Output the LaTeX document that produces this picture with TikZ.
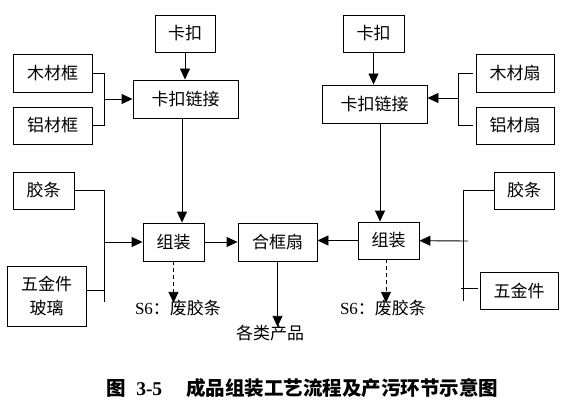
\documentclass[tikz,border=0pt]{standalone}
\usepackage{fontspec}
\setmainfont{Liberation Serif}
\newfontfamily\cjk{Noto Sans CJK SC}
\newfontfamily\latin{Liberation Serif}
\usetikzlibrary{arrows.meta}
\tikzstyle{block} = [rectangle, minimum height=38pt, inner sep=0pt, text centered, draw=black, line width=0.9pt, fill=white, font=\cjk\fontsize{17}{24}\selectfont]
\tikzstyle{txt} = [inner sep=0pt, text height=12pt, text depth=2pt, font=\cjk\fontsize{17}{24}\selectfont]
\tikzstyle{line} = [line width=0.9pt]
\tikzstyle{arrow} = [line width=0.9pt,-{Triangle[length=11pt,width=10pt]}]
\tikzstyle{dasharrow} = [arrow, dash pattern=on 4pt off 3pt]

\begin{document}
\begin{tikzpicture}[x=1pt, y=-1pt]
	\useasboundingbox (0,0) rectangle (577,401);
	% left half
	\node (kakou1) [block, minimum width=60pt, minimum height=37pt] at (185,33.5) {卡扣};
	\node (lianjie1) [block, minimum width=105pt] at (185.5,99) {卡扣链接};
	\node (mukuang) [block, minimum width=79pt] at (52.5,73) {木材框};
	\node (lvkuang) [block, minimum width=79pt, minimum height=37pt] at (52.5,125.5) {铝材框};
	\node (jiaotiao1) [block, minimum width=61pt, minimum height=37pt] at (43.5,190.5) {胶条};
	\node (wujin1) [block, minimum width=79pt, minimum height=60pt, align=center] at (46.5,296) {五金件\\玻璃};
	\node (zuzhuang1) [block, minimum width=61pt] at (173.5,242) {组装};
	\node (hekuang) [block, minimum width=79pt] at (277.5,242) {合框扇};
	\node (feijiao1) [txt] at (178,309) {{\latin S6}：废胶条};
	\node (chanpin) [txt] at (270,334) {各类产品};
	% right half
	\node (kakou2) [block, minimum width=61pt, minimum height=37pt] at (373.5,33.5) {卡扣};
	\node (lianjie2) [block, minimum width=105pt] at (374.5,104) {卡扣链接};
	\node (mushan) [block, minimum width=78pt] at (515,73) {木材扇};
	\node (lvshan) [block, minimum width=78pt, minimum height=37pt] at (515,125.5) {铝材扇};
	\node (jiaotiao2) [block, minimum width=60pt, minimum height=37pt] at (524,190.5) {胶条};
	\node (zuzhuang2) [block, minimum width=61pt, minimum height=37pt] at (388.5,240.5) {组装};
	\node (wujin2) [block, minimum width=78pt, minimum height=37pt] at (519,290.5) {五金件};
	\node (feijiao2) [txt] at (383,309) {{\latin S6}：废胶条};
	% caption
	\node (title) [inner sep=0pt, font=\fontsize{19.5}{22}\selectfont\bfseries] at (302.5,388) {{\cjk\bfseries 图}\hspace{10pt}3-5\hspace{24pt}{\cjk\bfseries 成品组装工艺流程及产污环节示意图}};

	\coordinate (b1) at (104,99);
	\coordinate (b2) at (458,98);
	\coordinate (b3) at (104,242);
	\coordinate (b3end) at (104,302);
	\coordinate (b4) at (463,241);
	\coordinate (b4end) at (463,301);

	\draw [arrow] (kakou1.south) -- (kakou1.south |- lianjie1.north);
	\draw [line] (mukuang.east) -| (b1);
	\draw [line] (lvkuang.east) -| (b1);
	\draw [arrow] (b1) -- (lianjie1);
	\draw [arrow] ([xshift=-3.5pt]lianjie1.south) -- ([xshift=-3.5pt]lianjie1.south |- zuzhuang1.north);
	\draw [line] (jiaotiao1.east) -| (b3end);
	\draw [line] ([yshift=6pt]wujin1.east) -- ([yshift=6pt]wujin1.east -| b3);
	\draw [arrow] (b3) -- (zuzhuang1);
	\draw [arrow] (zuzhuang1) -- (hekuang);
	\draw [dasharrow] (zuzhuang1.south) -- ([yshift=-1pt]zuzhuang1.south |- feijiao1.north);
	\draw [arrow] (hekuang.south) -- (hekuang.south |- chanpin.north);

	\draw [arrow] (kakou2.south) -- (kakou2.south |- lianjie2.north);
	\draw [line] ([xshift=-3pt]mushan.west) -| (b2);
	\draw [line] ([xshift=-3pt]lvshan.west) -| (b2);
	\draw [arrow] (b2) -- (b2 -| lianjie2.east);
	\draw [arrow] ([xshift=5.5pt]lianjie2.south) -- ([xshift=5.5pt]lianjie2.south |- zuzhuang2.north);
	\draw [line] (jiaotiao2.west) -| (b4end);
	\draw [line] ([xshift=-2pt,yshift=2.5pt]wujin2.west) -- ([xshift=-2pt,yshift=2.5pt]wujin2.west -| b4);
	\draw [arrow] ([xshift=5pt]b4) -- (zuzhuang2);
	\draw [arrow] (zuzhuang2.west) -- (zuzhuang2.west -| hekuang.east);
	\draw [dasharrow] ([xshift=-2.5pt]zuzhuang2.south) -- ([xshift=-2.5pt,yshift=-1pt]zuzhuang2.south |- feijiao2.north);
\end{tikzpicture}
\end{document}
